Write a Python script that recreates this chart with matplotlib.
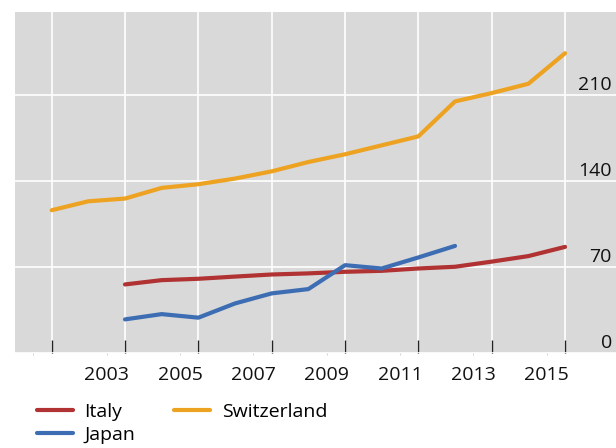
import matplotlib
matplotlib.use("Agg")
import matplotlib.pyplot as plt
import matplotlib.transforms as mtransforms

plt.rcParams['font.family'] = ['Open Sans', 'DejaVu Sans']

# values
years_ch = list(range(2001, 2016))
switzerland = [116.4, 123.7, 125.9, 134.6, 137.6, 142.2, 148.1, 155.7,
               162.0, 169.3, 176.6, 205.1, 211.9, 219.5, 244.4]
years_it = list(range(2003, 2016))
italy = [55.9, 59.4, 60.5, 62.3, 64.0, 64.9, 66.2, 67.0, 68.9, 70.3, 74.5, 79.0, 86.5]
years_jp = list(range(2003, 2013))
japan = [27.4, 31.7, 28.8, 40.4, 48.6, 52.1, 71.6, 68.9, 77.9, 87.3]

grid_years = list(range(2001, 2016, 2))
label_pos = [y - 0.5 for y in grid_years]
label_txt = [''] + [str(y) for y in grid_years[1:]]
y_ticks = [0, 70, 140, 210]

c_italy = '#B03232'
c_japan = '#3D6DB3'
c_swiss = '#EDA321'
fs = 14

fig = plt.figure(figsize=(6.16, 4.48), dpi=100)
ax = fig.add_axes([15 / 616, 95 / 448, 601 / 616, 341 / 448])
ax.set_facecolor('#D9D9D9')
for s in ax.spines.values():
    s.set_visible(False)

ax.plot(years_it, italy, color=c_italy, lw=3, solid_capstyle='round', label='Italy', zorder=3)
ax.plot(years_jp, japan, color=c_japan, lw=3, solid_capstyle='round', label='Japan', zorder=3)
ax.plot(years_ch, switzerland, color=c_swiss, lw=3, solid_capstyle='round', label='Switzerland', zorder=3)

ax.set_xlim(2000, 2016.39)
ax.set_ylim(0, 278)

ax.set_xticks(grid_years)
ax.set_xticklabels([])
ax.set_xticks(label_pos, minor=True)
ax.set_xticklabels(label_txt, minor=True, fontsize=fs, color='#111111')
ax.tick_params(axis='x', which='major', direction='in', length=9.5, width=1.0, color='#222222')
ax.tick_params(axis='x', which='minor', direction='out', length=1.5, width=0.6, color='#CCCCCC', pad=7.5)

ax.set_yticks(y_ticks)
ax.set_yticklabels([])
ax.tick_params(axis='y', length=0)
ax.grid(True, which='major', color='white', lw=1.2, zorder=1)
ax.set_axisbelow(True)

# y labels sit inside the plot, right aligned, just above their grid line
trans = mtransforms.blended_transform_factory(ax.transAxes, ax.transData)
trans = trans + mtransforms.ScaledTranslation(0, 5.5 / 100, fig.dpi_scale_trans)
for v in y_ticks:
    ax.text(0.9933, v, str(v), transform=trans, ha='right', va='baseline',
            fontsize=fs, color='#111111')

fig.legend(loc='upper left', bbox_to_anchor=(36.7 / 616, 1 - 403 / 448), ncol=2,
           frameon=False, fontsize=fs, handlelength=1.85, handletextpad=0.6,
           columnspacing=2.0, labelspacing=0.25, borderpad=0, borderaxespad=0)

fig.savefig('out.png', dpi=100)
